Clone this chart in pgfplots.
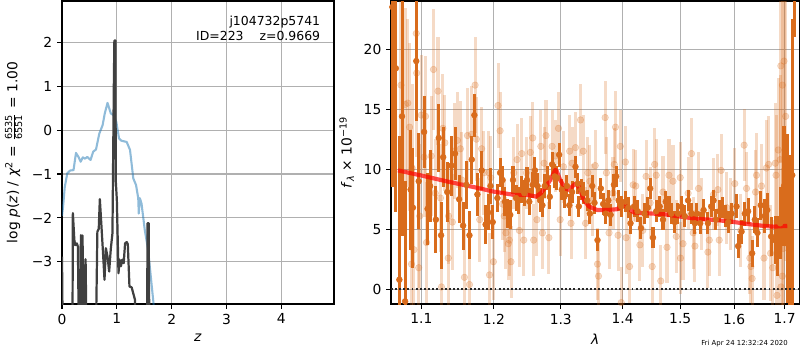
\documentclass[border=0pt]{standalone}
\usepackage{fontspec}
\setmainfont{DejaVu Sans}
\usepackage{pgfplots}
\usepackage{pgfplotstable}
\pgfplotsset{compat=1.18}
\definecolor{dko}{RGB}{217,108,28}
\definecolor{ltblue}{RGB}{31,119,180}
\definecolor{gridc}{RGB}{176,176,176}
\definecolor{dgray}{RGB}{64,64,64}

\pgfplotstableread{
x y
0.0 -1.95
0.02 -1.74
0.05 -1.3
0.097 -0.98
0.15 -0.92
0.21 -0.91
0.255 -0.52
0.30 -0.61
0.34 -0.72
0.38 -0.62
0.42 -0.65
0.46 -0.61
0.52 -0.68
0.57 -0.49
0.62 -0.44
0.68 -0.08
0.74 0.11
0.78 0.38
0.83 0.62
0.89 0.38
0.94 0.34
0.99 0.19
1.04 -0.19
1.08 -0.24
1.18 -0.27
1.24 -0.45
1.30 -1.1
1.35 -1.25
1.39 -1.55
1.40 -1.9
1.42 -1.55
1.45 -1.67
1.51 -2.28
1.57 -2.73
1.67 -3.96
1.70 -4.5
}\bluecurve

\pgfplotstableread{
x y
0.0 -2.88
0.015 -5
0.19 -5
0.198 -1.89
0.225 -2.5
0.24 -2.62
0.27 -2.58
0.29 -2.65
0.31 -5
0.33 -5
0.345 -2.39
0.36 -3.4
0.375 -2.4
0.39 -5
0.41 -3.5
0.43 -2.94
0.45 -5
0.615 -5
0.645 -2.31
0.67 -2.25
0.69 -1.57
0.72 -2.2
0.745 -2.73
0.775 -3.41
0.80 -2.69
0.83 -2.88
0.86 -3.22
0.89 -2.7
0.92 -2.35
0.945 1.0
0.955 2.04
0.975 2.04
0.98 -1.14
1.0 -1.59
1.03 -3.26
1.05 -2.95
1.075 -3.1
1.1 -2.95
1.125 -3.03
1.15 -2.58
1.18 -2.55
1.2 -2.6
1.23 -3.56
1.27 -3.58
1.30 -3.72
1.33 -3.86
1.345 -5
1.55 -5
1.56 -2.12
1.58 -2.12
1.595 -5
1.62 -5
}\graycurve

\pgfplotstableread{
x y e
1.0625 23.5 15
1.0670 18.4 12
1.0715 0.8 12
1.0749 14.4 10
1.0789 -1.0 10
1.0860 8.3 5
1.0890 6.8 5
1.0934 19.0 5
1.0966 9.0 4
1.1037 13.1 3
1.1083 6.7 3
1.1117 8.6 3
1.1194 5.8 2.8
1.1232 12.6 2.8
1.1264 4.5 2.8
1.1292 11.0 2.5
1.1347 8.1 2.5
1.1403 10.3 2.5
1.1454 11.3 2.2
1.1510 7.5 2
1.1565 5.3 2
1.1611 8.7 2
1.1653 4.5 2
1.1686 10.8 2
1.1722 14.5 1.8
1.1764 7.9 1.8
1.1825 9.9 1.6
1.1881 5.4 1.6
1.1917 6.4 1.5
1.1950 8.6 1.5
1.1982 5.6 1.4
1.2050 7.6 1.2
1.2089 9.7 1.2
1.2125 9.1 1.2
1.2159 7.3 1.2
1.2199 6.3 1.2
1.2237 6.2 1.2
1.2277 9.1 1.2
1.2322 7.6 1.1
1.2356 7.4 1.1
1.2396 8.3 1.1
1.2445 8.0 1.1
1.2485 9.1 1.1
1.2519 7.3 1.1
1.2570 8.7 1.1
1.2604 9.9 1.1
1.2644 8.6 1.1
1.2683 7.4 1.0
1.2718 7.0 1.0
1.2752 8.6 1.0
1.2792 9.3 1.0
1.2831 7.7 1.0
1.2866 10.4 1.0
1.2905 9.4 1.0
1.2941 9.3 1.0
1.2975 11.2 1.0
1.3016 8.3 0.9
1.3053 7.7 0.9
1.3097 8.6 0.9
1.3134 7.0 0.9
1.3177 8.1 0.9
1.3231 10.2 0.9
1.3268 8.8 0.9
1.3284 6.9 0.9
1.3323 8.3 0.9
1.3365 8.0 0.9
1.3419 7.4 0.9
1.3461 6.3 0.9
1.3500 8.6 0.9
1.3537 7.2 0.9
1.3585 4.1 0.9
1.3639 8.4 0.9
1.3677 7.1 0.9
1.3719 6.3 0.9
1.3763 7.4 0.9
1.3800 6.2 0.9
1.3855 8.7 0.9
1.3892 9.4 0.9
1.3935 7.4 0.9
1.3977 6.9 0.9
1.4046 7.3 0.9
1.4094 6.8 0.9
1.4134 5.5 0.9
1.4194 6.9 0.9
1.4253 6.5 0.9
1.4311 5.1 0.9
1.4371 6.3 0.9
1.4429 6.8 0.9
1.4470 8.4 0.9
1.4518 4.3 0.9
1.4576 6.5 0.9
1.4636 6.9 0.9
1.4694 5.8 0.9
1.4742 7.3 0.9
1.4800 6.9 0.9
1.4841 6.3 0.9
1.4901 5.6 0.9
1.4959 6.3 0.9
1.5019 6.9 0.9
1.5081 6.1 0.9
1.5143 7.4 0.9
1.5204 6.3 0.9
1.5267 5.5 0.9
1.5304 6.3 0.9
1.5365 5.5 0.9
1.5426 6.6 0.9
1.5507 5.5 0.9
1.5569 6.9 0.9
1.5611 7.4 0.9
1.5656 5.8 0.9
1.5717 6.5 0.9
1.5778 6.8 0.9
1.5841 6.1 0.9
1.5889 5.6 0.9
1.5952 6.3 0.9
1.6047 6.9 1.0
1.6078 3.6 1.0
1.6144 4.8 1.0
1.6208 6.3 1.0
1.6272 6.5 1.1
1.6350 3.0 1.1
1.6403 5.8 1.1
1.6455 4.7 1.2
1.6519 7.0 1.2
1.6597 6.1 1.4
1.6650 6.6 1.4
1.6728 4.4 1.6
1.6805 4.1 2
1.6856 3.6 2.5
1.6909 5.5 3
1.6986 8.6 5
1.7053 5.9 7
1.7108 4.2 7
1.7155 9.5 13
1.7210 27 6
}\darkdata

\pgfplotstableread{
x y e
1.0736 17.0 8
1.0789 15.4 8
1.0824 15.5 7
1.0847 13.5 7
1.0872 2.1 7
1.0880 10.1 7
1.0904 3.3 7
1.0934 21.3 7
1.0939 18.0 7
1.0966 1.8 6
1.0979 6.1 6
1.1000 14.5 5
1.1037 11.0 5
1.1056 14.4 5
1.1069 3.9 5
1.1131 11.1 5
1.1162 18.3 5
1.1186 8.0 4.5
1.1222 16.5 4.5
1.1256 7.6 4.5
1.1269 0.2 4.5
1.1288 13.4 4.5
1.1315 12.2 4
1.1361 2.6 4
1.1365 6.1 4
1.1417 5.6 4
1.1440 11.5 4
1.1486 12.4 4
1.1528 11.7 4
1.1547 9.1 4
1.1583 1.0 4
1.1625 12.8 4
1.1653 0.4 4
1.1681 12.9 4
1.1732 17.0 4
1.1750 12.5 3.5
1.1797 5.8 3.5
1.1825 11.7 3.5
1.1857 9.7 3.5
1.1926 9.7 3.5
1.1936 1.2 3.5
1.1954 9.3 3.5
1.1992 2.3 3.2
1.2059 15.3 3.5
1.2089 13.2 3.2
1.2125 7.1 3
1.2148 6.1 3
1.2174 4.7 3
1.2208 3.8 3
1.2223 4.1 3
1.2248 2.3 3
1.2288 9.7 3
1.2337 10.8 3
1.2371 4.9 3
1.2407 11.3 3
1.2436 4.1 3
1.2475 9.7 3
1.2534 11.4 3
1.2570 12.6 3
1.2585 4.1 3
1.2634 5.8 3
1.2693 11.9 3
1.2718 4.7 3
1.2742 10.5 3
1.2772 12.8 3
1.2816 4.3 3
1.2866 11.9 3
1.2915 11.1 3
1.2964 13.4 3
1.2990 5.8 3
1.3042 10.2 3
1.3139 11.5 3
1.3161 5.5 3
1.3177 10.5 3
1.3231 11.8 3
1.3311 14.1 3
1.3355 11.5 3
1.3392 5.5 3
1.3429 9.7 3
1.3461 9.0 3
1.3500 7.4 3
1.3548 10.3 3
1.3585 2.1 3
1.3602 1.1 3
1.3710 14.3 3
1.3731 9.7 3
1.3774 4.7 3
1.3839 8.0 3
1.3860 10.4 3
1.3881 13.5 3
1.3924 4.5 3
1.3961 11.9 3
1.3977 -1.1 3
1.4046 10.6 3
1.4058 4.3 3
1.4117 1.9 3
1.4177 8.7 3
1.4223 8.6 3
1.4293 3.7 3
1.4341 4.9 3
1.4399 9.4 3
1.4470 7.2 3
1.4505 1.9 3
1.4548 10.4 3
1.4576 9.5 3
1.4654 0.7 3
1.4694 8.1 3
1.4765 3.5 3
1.4800 9.5 3
1.4871 9.0 3
1.4929 4.4 3
1.5000 9.3 3
1.5005 2.6 3
1.5050 3.8 3
1.5143 8.0 3
1.5204 11.3 3
1.5235 4.7 3
1.5267 3.6 3
1.5333 8.4 3
1.5396 6.3 3
1.5507 3.1 3
1.5532 4.1 3
1.5611 7.9 3
1.5693 8.3 3
1.5717 4.1 3
1.5754 9.9 3
1.5860 6.8 3
1.5939 6.3 3
1.6014 8.8 3
1.6130 4.9 3
1.6195 12.0 3
1.6241 8.4 3
1.6305 2.6 3
1.6325 1.9 3
1.6350 0.9 3.5
1.6416 8.1 3.5
1.6436 9.5 3.5
1.6533 8.6 3.5
1.6584 2.6 3.5
1.6631 10.1 4
1.6675 10.4 4
1.6714 3.0 4
1.6759 1.8 4
1.6811 10.5 5
1.6825 9.5 5
1.6844 -0.5 5
1.6870 11.6 6
1.6909 10.8 7
1.6922 18.6 8
1.6925 0.2 8
1.6953 17.0 9
1.6955 1.1 9
1.6972 3.4 10
1.6986 19.0 10
1.7020 14.4 12
}\lightdata

\pgfplotstableread{
x y
1.0697 9.9
1.0983 9.5
1.1353 8.97
1.1722 8.5
1.2000 8.13
1.2297 7.86
1.2496 7.86
1.2619 7.72
1.2693 8.0
1.2793 8.7
1.2866 9.4
1.2915 9.94
1.2941 9.8
1.2990 9.1
1.3069 8.4
1.3139 8.27
1.3177 8.55
1.3231 8.8
1.3284 8.55
1.3365 7.44
1.3445 6.9
1.3581 6.6
1.3742 6.6
1.3903 6.67
1.3984 6.9
1.4041 6.97
1.4099 6.75
1.4187 6.4
1.4424 6.33
1.4717 6.25
1.5013 6.05
1.5322 5.86
1.5629 5.78
1.5939 5.64
1.6261 5.44
1.6584 5.28
1.6778 5.22
1.7053 5.28
}\model

\pgfplotsset{mpl/.style={
  scale only axis,
  axis line style={line width=0.8pt},
  grid=major,
  major grid style={gridc, line width=0.8pt},
  tick align=outside, tick pos=left,
  major tick length=3.5pt,
  tick style={black, line width=0.8pt},
  tick label style={font=\fontsize{10}{12}\selectfont},
  label style={font=\fontsize{10}{12}\selectfont},
  /pgf/number format/assume math mode=true,
}}

\begin{document}
\begin{tikzpicture}
\path[use as bounding box] (0,0) rectangle (578.16pt,252.95pt);

\begin{axis}[mpl,
  at={(44.81pt,33.24pt)}, anchor=south west,
  width=196.57pt, height=218.98pt,
  xmin=0, xmax=4.96, ymin=-3.96, ymax=2.94,
  xtick={0,1,2,3,4},
  ytick={-3,-2,-1,0,1,2},
  yticklabels={−3,−2,−1,0,1,2},
  xlabel={\textit{z}},
  ylabel={log \textit{p}(\textit{z}) / \textit{χ}\textsuperscript{2} = $\frac{\mbox{\fontsize{7}{7}\selectfont 6535}}{\mbox{\fontsize{7}{7}\selectfont 6551}}$ = 1.00},
]
\addplot[ltblue, opacity=0.5, line width=1.5pt, line join=round] table[x=x,y=y] {\bluecurve};
\addplot[dgray, line width=1.6pt, line join=round] table[x=x,y=y] {\graycurve};
\node[anchor=north east, align=right, inner sep=0pt, font=\fontsize{9}{10.2}\selectfont] at (rel axis cs:0.95,0.95) {j104732p5741\\ID=223\hspace{11.5pt}z=0.9669};
\end{axis}

\begin{axis}[mpl,
  at={(282.58pt,33.24pt)}, anchor=south west,
  width=295.08pt, height=218.98pt,
  xmode=log,
  xmin=1.0608, xmax=1.730, ymin=-1.22, ymax=24.0,
  xtick={1.1,1.2,1.3,1.4,1.5,1.6,1.7},
  xticklabels={1.1,1.2,1.3,1.4,1.5,1.6,1.7},
  minor xtick={},
  ytick={0,5,10,15,20},
  xlabel={\textit{λ}},
  ylabel={\textit{f}\textsubscript{\textit{λ}} × 10\textsuperscript{−19}},
]
\addplot[only marks, mark=*, mark size=2.4pt, dko, opacity=0.25,
  error bars/.cd, y dir=both, y explicit, error mark=none,
  error bar style={line width=2.2pt, dko, opacity=0.25}]
  table[x=x, y=y, y error=e] {\lightdata};
\addplot[only marks, mark=*, mark size=2.1pt, dko,
  error bars/.cd, y dir=both, y explicit, error mark=none,
  error bar style={line width=2.2pt, dko}]
  table[x=x, y=y, y error=e] {\darkdata};
\addplot[red, opacity=0.7, line width=3pt, line join=round] table[x=x,y=y] {\model};
\addplot[black!85, line width=1.4pt, dash pattern=on 1.4pt off 1.6pt] coordinates {(1.05,0) (1.75,0)};
\end{axis}

\node[anchor=base east, inner sep=0pt, font=\fontsize{5}{6}\selectfont] at (569.5pt,3.6pt) {Fri Apr 24 12:32:24 2020};
\end{tikzpicture}
\end{document}
